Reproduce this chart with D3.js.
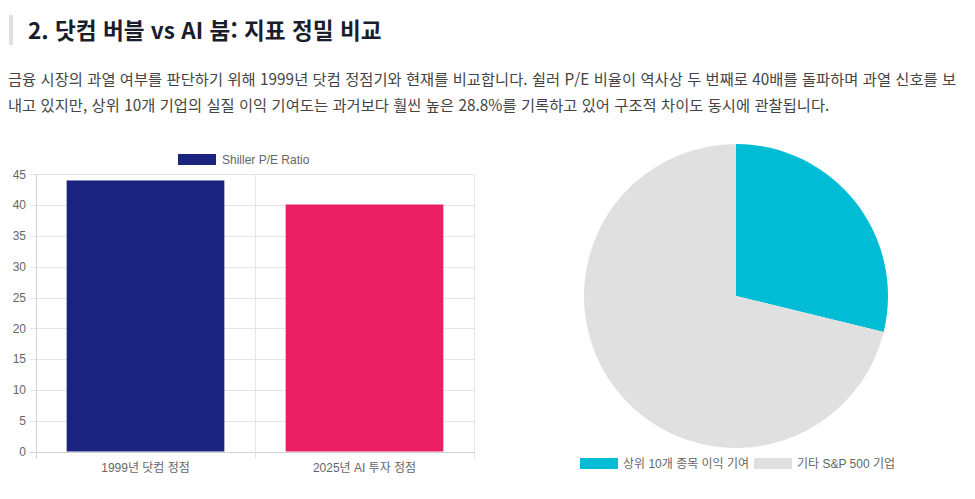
<!DOCTYPE html>
<html lang="ko">
<head>
<meta charset="utf-8">
<script src="https://cdn.jsdelivr.net/npm/d3@7"></script>
<style>
  html, body { margin: 0; padding: 0; background: #fff; }
  body { width: 975px; height: 499px; overflow: hidden; position: relative; font-family: "Noto Sans CJK KR", "Noto Sans", sans-serif; }
  #title { position: absolute; left: 9px; top: 15px; height: 30px; border-left: 4px solid #e0e0e0; padding-left: 15px;
           font-size: 22.6px; font-weight: 700; color: #1a1d2b; line-height: 30px; white-space: nowrap; }
  #desc { position: absolute; left: 8px; top: 65px; width: 953px; font-size: 15.3px; letter-spacing: 0.05px; line-height: 26px; color: #444; }
  svg { position: absolute; left: 0; top: 0; }
</style>
</head>
<body>
<div id="title">2. 닷컴 버블 vs AI 붐: 지표 정밀 비교</div>
<div id="desc">금융 시장의 과열 여부를 판단하기 위해 1999년 닷컴 정점기와 현재를 비교합니다. 쉴러 P/E 비율이 역사상 두 번째로 40배를 돌파하며 과열 신호를 보내고 있지만, 상위 10개 기업의 실질 이익 기여도는 과거보다 훨씬 높은 28.8%를 기록하고 있어 구조적 차이도 동시에 관찰됩니다.</div>
<svg id="chart" width="975" height="499"></svg>
<script>
// ---- data ----
const barCategories = ["1999년 닷컴 정점", "2025년 AI 투자 정점"];
const barValues = [44, 40.1];
const barColors = ["#1a237e", "#e91e63"];
const barSeriesName = "Shiller P/E Ratio";
const yTicks = [0, 5, 10, 15, 20, 25, 30, 35, 40, 45];

const pieLabels = ["상위 10개 종목 이익 기여", "기타 S&P 500 기업"];
const pieValues = [28.8, 71.2];
const pieColors = ["#00bcd4", "#e0e0e0"];

const svg = d3.select("#chart");
const fontFam = "'Liberation Sans', Arial, 'Noto Sans CJK KR', sans-serif";
const tickColor = "#666";
const gridColor = "#e5e5e5";

// ---- bar chart ----
const x = d3.scaleBand().domain(barCategories).range([36, 474]).paddingInner(0).paddingOuter(0);
const y = d3.scaleLinear().domain([0, 45]).range([451.5, 174.3]);

const g = svg.append("g");
g.selectAll("line.hg").data(yTicks).join("line")
  .attr("x1", 30).attr("x2", 474)
  .attr("y1", d => Math.round(y(d)) + 0.5).attr("y2", d => Math.round(y(d)) + 0.5)
  .attr("stroke", d => d === 0 ? "#d0d0d0" : gridColor).attr("stroke-width", 1);
const vEdges = barCategories.map(c => x(c)).concat([x.range()[1]]);
g.selectAll("line.vg").data(vEdges).join("line")
  .attr("x1", d => Math.round(d) + 0.5).attr("x2", d => Math.round(d) + 0.5)
  .attr("y1", y(45)).attr("y2", y(0) + 7)
  .attr("stroke", (d, i) => i === 0 ? "#d0d0d0" : gridColor).attr("stroke-width", 1);
g.selectAll("text.yt").data(yTicks).join("text")
  .attr("x", 26).attr("y", d => y(d)).attr("dy", "0.35em")
  .attr("text-anchor", "end").attr("font-size", 12).attr("fill", tickColor)
  .attr("font-family", fontFam).text(d => d);
const bw = x.bandwidth() * 0.72;
g.selectAll("rect.bar").data(barValues).join("rect")
  .attr("x", (d, i) => x(barCategories[i]) + (x.bandwidth() - bw) / 2)
  .attr("y", d => y(d)).attr("width", bw).attr("height", d => y(0) - y(d))
  .attr("fill", (d, i) => barColors[i]);
g.selectAll("text.xt").data(barCategories).join("text")
  .attr("x", d => x(d) + x.bandwidth() / 2).attr("y", 468).attr("dy", "0.35em")
  .attr("text-anchor", "middle").attr("font-size", 12).attr("fill", tickColor)
  .attr("font-family", fontFam).text(d => d);
const lg = svg.append("g");
lg.append("rect").attr("x", 178).attr("y", 154).attr("width", 38).attr("height", 11).attr("fill", barColors[0]);
lg.append("text").attr("x", 222).attr("y", 159.5).attr("dy", "0.35em").attr("font-size", 12)
  .attr("fill", tickColor).attr("font-family", fontFam).text(barSeriesName);

// ---- pie chart ----
const cx = 736, cy = 296, r = 152;
const pie = d3.pie().sort(null).value(d => d);
const arc = d3.arc().innerRadius(0).outerRadius(r);
const pg = svg.append("g").attr("transform", `translate(${cx},${cy})`);
pg.selectAll("path").data(pie(pieValues)).join("path")
  .attr("d", arc).attr("fill", (d, i) => pieColors[i]);

const legX = [580, 754];
const pl = svg.append("g");
pieLabels.forEach((lab, i) => {
  pl.append("rect").attr("x", legX[i]).attr("y", 458).attr("width", 38).attr("height", 11).attr("fill", pieColors[i]);
  pl.append("text").attr("x", legX[i] + 43).attr("y", 463.5).attr("dy", "0.35em").attr("font-size", 12)
    .attr("fill", tickColor).attr("font-family", fontFam).text(lab);
});
</script>
</body>
</html>
